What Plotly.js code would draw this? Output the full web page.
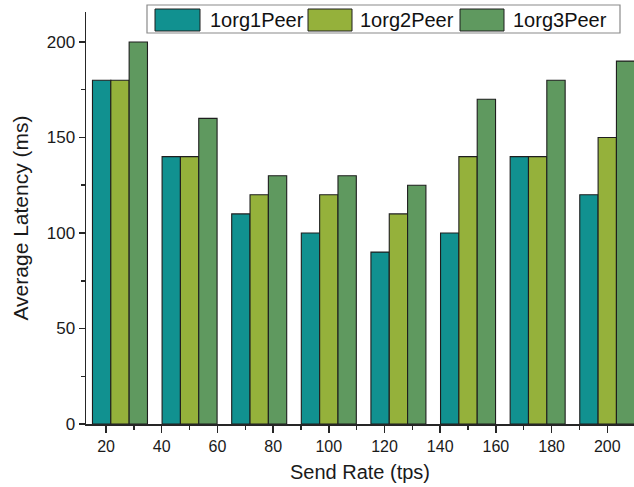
<!DOCTYPE html>
<html>
<head>
<meta charset="utf-8">
<script src="https://cdn.plot.ly/plotly-3.0.1.min.js"></script>
<style>
  html, body { margin: 0; padding: 0; background: #ffffff; }
  #chart { width: 634px; height: 487px; }
</style>
</head>
<body>
<div id="chart"></div>
<script>
// ---- data ----
const sendRates = [25, 50, 75, 100, 125, 150, 175, 200];
const seriesNames = ["1org1Peer", "1org2Peer", "1org3Peer"];
const latency1org1Peer = [180, 140, 110, 100, 90, 100, 140, 120];
const latency1org2Peer = [180, 140, 120, 120, 110, 140, 140, 150];
const latency1org3Peer = [200, 160, 130, 130, 125, 170, 180, 190];
const xTickVals = [20, 40, 60, 80, 100, 120, 140, 160, 180, 200];
const yTickVals = [0, 50, 100, 150, 200];

// ---- style ----
const colors = ["#119190", "#95b13b", "#5f995f"];
const edge = "#1e1e1e";
const axisColor = "#262626";
const FONT = "Arial, 'Liberation Sans', sans-serif";

const W = 634, H = 487;
const M = { l: 86, r: 0, t: 12, b: 63 };
const pw = W - M.l - M.r, ph = H - M.t - M.b;
const px2x = p => (p - M.l) / pw;
const px2y = p => (H - M.b - p) / ph;

const allSeries = [latency1org1Peer, latency1org2Peer, latency1org3Peer];
const traces = allSeries.map((vals, i) => ({
  type: "bar",
  name: seriesNames[i],
  x: sendRates,
  y: vals,
  marker: { color: colors[i], line: { color: edge, width: 1.1 } },
  showlegend: false,
  hoverinfo: "x+y+name"
}));

// custom legend (box, swatches, labels)
const legendBox = { x0: 147, x1: 620, y0: 5, y1: 33 };
const swatchX = [[155, 200], [308, 352], [460, 504]];
const swatchY = [9, 31];
const labelX = [208, 358, 511];

const shapes = [{
  type: "rect", xref: "paper", yref: "paper",
  x0: px2x(legendBox.x0), x1: px2x(legendBox.x1),
  y0: px2y(legendBox.y1), y1: px2y(legendBox.y0),
  line: { color: "#8a8a8a", width: 1.2 }, fillcolor: "#ffffff", layer: "above"
}];
const annotations = [];
seriesNames.forEach((n, i) => {
  shapes.push({
    type: "rect", xref: "paper", yref: "paper",
    x0: px2x(swatchX[i][0]), x1: px2x(swatchX[i][1]),
    y0: px2y(swatchY[1]), y1: px2y(swatchY[0]),
    line: { color: edge, width: 1 }, fillcolor: colors[i], layer: "above"
  });
  annotations.push({
    xref: "paper", yref: "paper",
    x: px2x(labelX[i]), y: px2y((swatchY[0] + swatchY[1]) / 2),
    xanchor: "left", yanchor: "middle", showarrow: false,
    text: n, font: { family: FONT, size: 20, color: "#111" }
  });
});

const layout = {
  width: W, height: H,
  margin: { l: M.l, r: M.r, t: M.t, b: M.b, pad: 0 },
  paper_bgcolor: "#ffffff", plot_bgcolor: "#ffffff",
  barmode: "group", bargap: 0.21, bargroupgap: 0,
  font: { family: FONT, color: "#1a1a1a" },
  xaxis: {
    range: [12.8, 209.6],
    tickvals: xTickVals,
    ticktext: xTickVals.map(String),
    ticks: "outside", ticklen: 7, tickwidth: 1.5, tickcolor: axisColor,
    minor: { dtick: 10, tick0: 0, ticks: "outside", ticklen: 4, tickwidth: 1.5, tickcolor: axisColor, showgrid: false },
    showline: true, linecolor: axisColor, linewidth: 1.5,
    showgrid: false, zeroline: false,
    tickfont: { family: FONT, size: 16, color: "#1a1a1a" },
    title: { text: "Send Rate (tps)", font: { family: FONT, size: 20, color: "#1a1a1a" }, standoff: 11 },
    automargin: false
  },
  yaxis: {
    range: [0, 215.7],
    tickvals: yTickVals,
    ticks: "outside", ticklen: 6, tickwidth: 1.5, tickcolor: axisColor,
    minor: { dtick: 25, tick0: 0, ticks: "outside", ticklen: 4, tickwidth: 1.5, tickcolor: axisColor, showgrid: false },
    showline: true, linecolor: axisColor, linewidth: 1.5,
    showgrid: false, zeroline: false,
    tickfont: { family: FONT, size: 17, color: "#1a1a1a" },
    title: { text: "Average Latency (ms)", font: { family: FONT, size: 21, color: "#1a1a1a" }, standoff: 12 },
    automargin: false
  },
  shapes: shapes,
  annotations: annotations,
  showlegend: false
};

Plotly.newPlot("chart", traces, layout, { displayModeBar: false, staticPlot: true });
</script>
</body>
</html>
